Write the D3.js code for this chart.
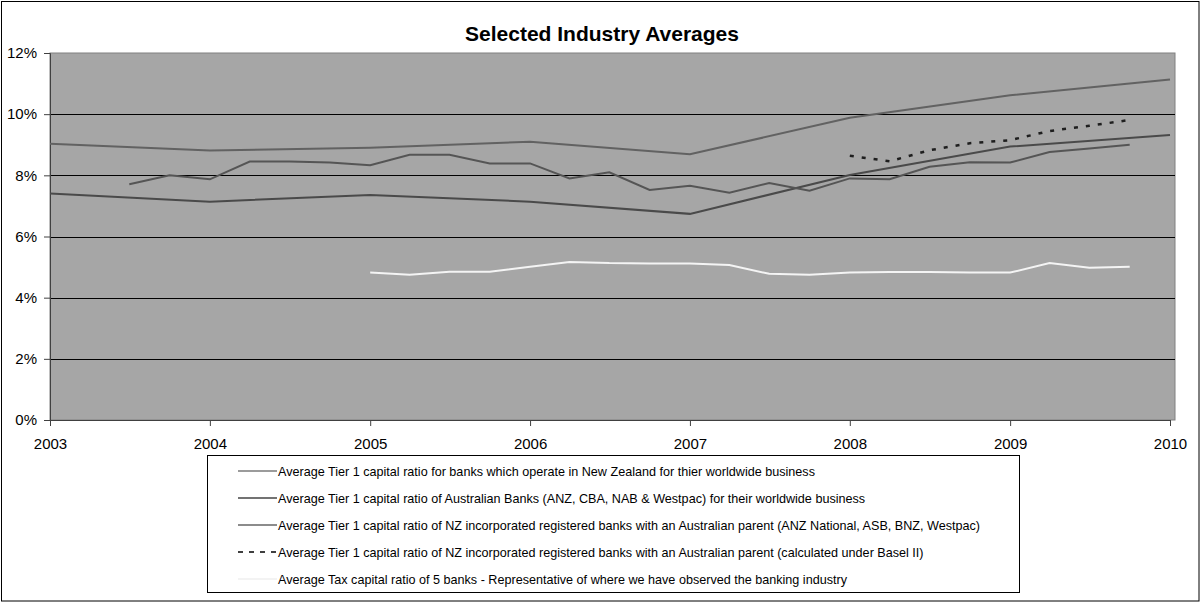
<!DOCTYPE html>
<html lang="en">
<head>
<meta charset="UTF-8">
<title>Selected Industry Averages</title>
<script src="https://d3js.org/d3.v7.min.js"></script>
<style>
    body { margin: 0; background: #fff; }
    svg { display: block; font-family: "Liberation Sans", Arial, sans-serif; }
    .tick text { font-size: 15px; fill: #000; }
    .legend text { font-size: 13px; fill: #000; }
</style>
</head>
<body>
<div id="chart"></div>
<script>
    // Annual observations (year ends)
    const annualDates = ["2003-01-01", "2004-01-01", "2005-01-01", "2006-01-01",
                         "2007-01-01", "2008-01-01", "2009-01-01", "2010-01-01"];
    const nzWorldwide = [9.03, 8.81, 8.90, 9.10, 8.69, 9.88, 10.62, 11.13];
    const ausBanks    = [7.41, 7.14, 7.36, 7.14, 6.74, 8.01, 8.94, 9.32];

    // Quarterly observations
    const quarterDates = [
        "2003-07-01", "2003-10-01",
        "2004-01-01", "2004-04-01", "2004-07-01", "2004-10-01",
        "2005-01-01", "2005-04-01", "2005-07-01", "2005-10-01",
        "2006-01-01", "2006-04-01", "2006-07-01", "2006-10-01",
        "2007-01-01", "2007-04-01", "2007-07-01", "2007-10-01",
        "2008-01-01", "2008-04-01", "2008-07-01", "2008-10-01",
        "2009-01-01", "2009-04-01", "2009-07-01", "2009-10-01"
    ];
    const nzIncorporated = [7.71, 8.00, 7.87, 8.45, 8.45, 8.42, 8.33, 8.67, 8.67, 8.39,
                            8.39, 7.90, 8.10, 7.52, 7.66, 7.43, 7.75, 7.50, 7.90, 7.87,
                            8.28, 8.43, 8.42, 8.76, 8.88, 9.00];
    const nzBasel2 = [8.64, 8.46, 8.82, 9.05, 9.15, 9.45, 9.62, 9.81];          // from 2008-01
    const taxRatio = [4.82, 4.75, 4.85, 4.85, 5.01, 5.17, 5.13, 5.12, 5.12, 5.07,
                      4.78, 4.75, 4.82, 4.84, 4.84, 4.82, 4.82, 5.13, 4.98, 5.01]; // from 2005-01

    const yTicks = [0, 2, 4, 6, 8, 10, 12];
    const xTickYears = ["2003", "2004", "2005", "2006", "2007", "2008", "2009", "2010"];

    const legendLabels = [
        "Average Tier 1 capital ratio for banks which operate in New Zealand for thier worldwide business",
        "Average Tier 1 capital ratio of Australian Banks (ANZ, CBA, NAB & Westpac) for their worldwide business",
        "Average Tier 1 capital ratio of NZ incorporated registered banks with an Australian parent (ANZ National, ASB, BNZ, Westpac)",
        "Average Tier 1 capital ratio of NZ incorporated registered banks with an Australian parent (calculated under Basel II)",
        "Average Tax capital ratio of 5 banks - Representative of where we have observed the banking industry"
    ];

    const W = 1201, H = 603;
    const plot = { left: 50, top: 53, right: 1175, bottom: 420 };

    const svg = d3.select("#chart").append("svg")
        .attr("width", W)
        .attr("height", H);

    // outer frame
    svg.append("rect")
        .attr("x", 1.5).attr("y", 1.5)
        .attr("width", W - 3.5).attr("height", H - 3.5)
        .attr("fill", "#fff")
        .attr("stroke", "#000");

    const parse = d3.timeParse("%Y-%m-%d");

    const x = d3.scaleTime()
        .domain([parse("2003-01-01"), parse("2010-01-01")])
        .range([plot.left, 1170]);

    const y = d3.scaleLinear()
        .domain([0, 12])
        .range([plot.bottom, plot.top]);

    // plot background
    svg.append("rect")
        .attr("x", plot.left).attr("y", plot.top)
        .attr("width", plot.right - plot.left)
        .attr("height", plot.bottom - plot.top)
        .attr("fill", "#a6a6a6")
        .attr("stroke", "#808080");

    // gridlines
    svg.append("g")
        .selectAll("line")
        .data(yTicks.filter(d => d > 0 && d < 12))
        .join("line")
        .attr("x1", plot.left).attr("x2", plot.right)
        .attr("y1", d => Math.round(y(d)) + 0.5)
        .attr("y2", d => Math.round(y(d)) + 0.5)
        .attr("stroke", "#000");

    // y axis
    const yAxis = svg.append("g")
        .attr("transform", `translate(${plot.left},0)`)
        .call(d3.axisLeft(y).tickValues(yTicks).tickSize(6).tickPadding(7)
            .tickFormat(d => d + "%"));
    yAxis.select(".domain").attr("stroke", "#404040");
    yAxis.selectAll(".tick line").attr("stroke", "#404040");
    yAxis.selectAll(".tick text").attr("font-family", null).attr("font-size", null);

    // x axis
    const xAxis = svg.append("g")
        .attr("transform", `translate(0,${plot.bottom})`)
        .call(d3.axisBottom(x)
            .tickValues(xTickYears.map(d => parse(d + "-01-01")))
            .tickSize(6).tickPadding(12)
            .tickFormat(d3.timeFormat("%Y")));
    xAxis.select(".domain").attr("stroke", "#404040");
    xAxis.selectAll(".tick line").attr("stroke", "#404040");
    xAxis.selectAll(".tick text").attr("font-family", null).attr("font-size", null);

    // series
    const series = [
        { dates: annualDates, values: nzWorldwide, color: "#626262", width: 2 },
        { dates: annualDates, values: ausBanks, color: "#4a4a4a", width: 2 },
        { dates: quarterDates, values: nzIncorporated, color: "#555555", width: 2 },
        { dates: quarterDates.slice(18), values: nzBasel2, color: "#1e1e1e", width: 2.5, dash: "4,8" },
        { dates: quarterDates.slice(6), values: taxRatio, color: "#f4f4f4", width: 2 }
    ];

    const line = d3.line()
        .x(d => x(d.date))
        .y(d => y(d.value));

    series.forEach(s => {
        svg.append("path")
            .datum(s.values.map((v, i) => ({ date: parse(s.dates[i]), value: v })))
            .attr("fill", "none")
            .attr("stroke", s.color)
            .attr("stroke-width", s.width)
            .attr("stroke-dasharray", s.dash || null)
            .attr("d", line);
    });

    // title
    svg.append("text")
        .attr("x", 602).attr("y", 41)
        .attr("text-anchor", "middle")
        .attr("font-size", 21)
        .attr("font-weight", "bold")
        .text("Selected Industry Averages");

    // legend
    const legendColors = ["#7a7a7a", "#444444", "#666666", "#000000", "#efefef"];
    const legend = svg.append("g").attr("class", "legend");
    legend.append("rect")
        .attr("x", 207.5).attr("y", 455.5)
        .attr("width", 812).attr("height", 137)
        .attr("fill", "#fff")
        .attr("stroke", "#000");

    legendLabels.forEach((label, i) => {
        const cy = 471 + i * 27;
        legend.append("line")
            .attr("x1", 238).attr("x2", 277)
            .attr("y1", cy).attr("y2", cy)
            .attr("stroke", legendColors[i])
            .attr("stroke-width", 1.5)
            .attr("stroke-dasharray", i === 3 ? "5,6" : null);
        // narrow face: squeeze the text a little horizontally
        legend.append("text")
            .attr("transform", `translate(278,${cy + 4.5}) scale(0.97,1)`)
            .text(label);
    });
</script>
</body>
</html>
